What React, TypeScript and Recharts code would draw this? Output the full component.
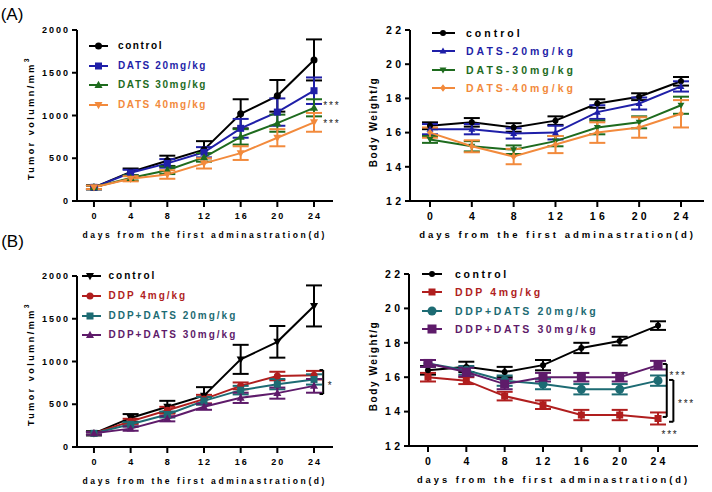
import React from 'react';
import { LineChart, Line, XAxis, YAxis, ErrorBar, ReferenceLine, ReferenceDot } from 'recharts';

const FONT = 'Arial, "Liberation Sans", Helvetica, sans-serif';

// ---------- shared ----------
const days = [0, 4, 8, 12, 16, 20, 24];
const xTicks = [0, 4, 8, 12, 16, 20, 24];
const tumorTicks = [0, 500, 1000, 1500, 2000];
const weightTicks = [12, 14, 16, 18, 20, 22];
const xTitle = 'days from the first adminastration(d)';

// ---------- (A) tumor volume ----------
const aTumorControl = [160, 340, 470, 600, 1020, 1230, 1650];
const aTumorControlErr = [25, 40, 60, 100, 170, 185, 240];
const aTumorD20 = [160, 330, 440, 570, 850, 1040, 1290];
const aTumorD20Err = [20, 35, 50, 60, 110, 160, 155];
const aTumorD30 = [160, 270, 360, 510, 750, 910, 1090];
const aTumorD30Err = [20, 30, 45, 50, 90, 100, 100];
const aTumorD40 = [160, 260, 310, 440, 560, 740, 920];
const aTumorD40Err = [20, 30, 50, 60, 80, 100, 110];

// ---------- (A) body weight ----------
const aWeightControl = [16.4, 16.6, 16.3, 16.7, 17.7, 18.1, 19.0];
const aWeightControlErr = [0.2, 0.25, 0.25, 0.25, 0.25, 0.2, 0.25];
const aWeightD20 = [16.2, 16.2, 15.95, 16.0, 17.2, 17.7, 18.7];
const aWeightD20Err = [0.3, 0.3, 0.3, 0.4, 0.4, 0.35, 0.3];
const aWeightD30 = [15.6, 15.2, 15.0, 15.5, 16.3, 16.6, 17.6];
const aWeightD30Err = [0.2, 0.3, 0.25, 0.3, 0.4, 0.35, 0.5];
const aWeightD40 = [16.0, 15.2, 14.6, 15.3, 16.0, 16.3, 17.1];
const aWeightD40Err = [0.3, 0.35, 0.45, 0.5, 0.6, 0.6, 0.8];

// ---------- (B) tumor volume ----------
const bTumorControl = [160, 340, 470, 600, 1025, 1230, 1650];
const bTumorControlErr = [25, 45, 70, 100, 170, 185, 240];
const bTumorDDP = [160, 300, 430, 560, 715, 830, 840];
const bTumorDDPErr = [15, 30, 40, 50, 40, 50, 50];
const bTumorDD20 = [160, 265, 380, 540, 665, 735, 790];
const bTumorDD20Err = [15, 25, 35, 45, 50, 60, 60];
const bTumorDD30 = [160, 215, 330, 470, 575, 630, 715];
const bTumorDD30Err = [15, 25, 30, 35, 60, 65, 80];

// ---------- (B) body weight ----------
const bWeightControl = [16.4, 16.6, 16.3, 16.7, 17.7, 18.1, 19.0];
const bWeightControlErr = [0.25, 0.3, 0.3, 0.3, 0.3, 0.25, 0.25];
const bWeightDDP = [16.0, 15.8, 14.9, 14.4, 13.8, 13.8, 13.6];
const bWeightDDPErr = [0.25, 0.2, 0.25, 0.25, 0.3, 0.3, 0.35];
const bWeightDD20 = [16.8, 16.4, 15.8, 15.6, 15.3, 15.3, 15.8];
const bWeightDD20Err = [0.2, 0.25, 0.3, 0.3, 0.3, 0.3, 0.3];
const bWeightDD30 = [16.8, 16.3, 15.6, 16.0, 16.0, 16.0, 16.7];
const bWeightDD30Err = [0.2, 0.25, 0.3, 0.25, 0.25, 0.25, 0.25];

// ---------- colours ----------
const BLACK = '#000000';
const BLUE = '#1f1fa8';
const GREEN = '#1e6b1e';
const ORANGE = '#f28a3c';
const RED = '#b01e1e';
const TEAL = '#1d6b73';
const PURPLE = '#5e1b6a';

type Shape = 'circle' | 'square' | 'triangle' | 'triangleDown' | 'diamond';
interface Series { name: string; values: number[]; errs: number[]; color: string; shape: Shape; size: number; }

function buildRows(series: Series[]) {
  return days.map((d, i) => {
    const row: any = { day: d };
    series.forEach((s, k) => {
      row['v' + k] = s.values[i];
      row['e' + k] = s.errs[i];
    });
    return row;
  });
}

function Marker({ shape, cx, cy, size, color }: { shape: Shape; cx: number; cy: number; size: number; color: string }) {
  const r = size / 2;
  if (shape === 'circle') return <circle cx={cx} cy={cy} r={r} fill={color} />;
  if (shape === 'square') return <rect x={cx - r} y={cy - r} width={size} height={size} fill={color} />;
  if (shape === 'triangle')
    return <polygon points={`${cx},${cy - r * 1.2} ${cx + r * 1.15},${cy + r * 0.85} ${cx - r * 1.15},${cy + r * 0.85}`} fill={color} />;
  if (shape === 'triangleDown')
    return <polygon points={`${cx},${cy + r * 1.2} ${cx + r * 1.15},${cy - r * 0.85} ${cx - r * 1.15},${cy - r * 0.85}`} fill={color} />;
  return <polygon points={`${cx},${cy - r * 1.25} ${cx + r},${cy} ${cx},${cy + r * 1.25} ${cx - r},${cy}`} fill={color} />;
}

const xTickRenderer = (fs: number, ls: number) => (p: any) => (
  <text x={p.x + ls / 2} y={p.y} dy={fs * 0.71} textAnchor="middle" fontSize={fs} fontWeight="bold"
    fontFamily={FONT} fill="#000" letterSpacing={ls}>{p.payload.value}</text>
);
const yTickRenderer = (fs: number, ls: number) => (p: any) => (
  <text x={p.x + ls} y={p.y} dy={fs * 0.355} textAnchor="end" fontSize={fs} fontWeight="bold"
    fontFamily={FONT} fill="#000" letterSpacing={ls}>{p.payload.value}</text>
);

function Txt({ x, y, fs, ls, color = '#000', rotate = false, center = true, bold = true, children }: any) {
  const tf = center ? (rotate ? 'translate(-50%,-50%) rotate(-90deg)' : 'translate(-50%,-50%)') : 'translate(0,-50%)';
  return (
    <div style={{
      position: 'absolute', left: x + (center && !rotate ? ls / 2 : 0), top: y, transform: tf,
      fontSize: fs, lineHeight: 1, letterSpacing: ls, fontWeight: bold ? 'bold' : 'normal',
      fontFamily: FONT, color, whiteSpace: 'nowrap',
    }}>{children}</div>
  );
}

interface LegendSpec { lineX1: number; lineX2: number; markerX: number; textX: number; rows: number[]; fs: number; ls: number; }

function LegendOverlay({ series, spec }: { series: Series[]; spec: LegendSpec }) {
  const w = spec.lineX2 - spec.lineX1;
  return (
    <>
      {series.map((s, i) => (
        <React.Fragment key={i}>
          <svg style={{ position: 'absolute', left: spec.lineX1, top: spec.rows[i] - 8 }} width={w} height={16}>
            <line x1={0} y1={8} x2={w} y2={8} stroke={s.color} strokeWidth={2} />
            <Marker shape={s.shape} cx={spec.markerX - spec.lineX1} cy={8} size={s.size} color={s.color} />
          </svg>
          <Txt x={spec.textX} y={spec.rows[i]} fs={spec.fs} ls={spec.ls} color={s.color} center={false}>{s.name}</Txt>
        </React.Fragment>
      ))}
    </>
  );
}

interface PanelProps {
  left: number; top: number; series: Series[];
  yDomain: [number, number]; yTicks: number[]; xDomain: [number, number];
  margin: { top: number; right: number; bottom: number; left: number }; yWidth: number; xHeight: number;
  tickFs: number; tickLs: number; capW: number;
  legend: LegendSpec;
  yTitle: React.ReactNode; yTitlePos: [number, number]; yTitleFs: number; yTitleLs: number;
  xTitlePos: [number, number]; xTitleFs: number; xTitleLs: number;
  annotations?: React.ReactNode[];
}

function Panel(p: PanelProps) {
  const rows = buildRows(p.series);
  return (
    <div style={{ position: 'absolute', left: p.left, top: p.top, width: 356, height: 246 }}>
      <LineChart width={356} height={246} data={rows} margin={p.margin}>
        <XAxis dataKey="day" type="number" domain={p.xDomain} ticks={xTicks} allowDataOverflow interval={0}
          height={p.xHeight} tickSize={6} tickMargin={6}
          axisLine={{ stroke: '#000', strokeWidth: 2 }} tickLine={{ stroke: '#000', strokeWidth: 2 }}
          tick={xTickRenderer(p.tickFs, p.tickLs)} />
        <YAxis type="number" domain={p.yDomain} ticks={p.yTicks} allowDataOverflow interval={0}
          width={p.yWidth} tickSize={5} tickMargin={4}
          axisLine={{ stroke: '#000', strokeWidth: 2 }} tickLine={{ stroke: '#000', strokeWidth: 2 }}
          tick={yTickRenderer(p.tickFs, p.tickLs)} />
        {p.series.map((s, k) => (
          <Line key={k} dataKey={'v' + k} name={s.name} type="linear" stroke={s.color} strokeWidth={2}
            isAnimationActive={false}
            dot={(d: any) => (d.cx == null ? <g key={d.index} /> :
              <Marker key={d.index} shape={s.shape} cx={d.cx} cy={d.cy} size={s.size} color={s.color} />)}
            activeDot={false}>
            <ErrorBar dataKey={'e' + k} direction="y" width={p.capW} strokeWidth={2} stroke={s.color} />
          </Line>
        ))}
        {p.annotations}
      </LineChart>
      <LegendOverlay series={p.series} spec={p.legend} />
      <Txt x={p.yTitlePos[0]} y={p.yTitlePos[1]} fs={p.yTitleFs} ls={p.yTitleLs} rotate>{p.yTitle}</Txt>
      <Txt x={p.xTitlePos[0]} y={p.xTitlePos[1]} fs={p.xTitleFs} ls={p.xTitleLs}>{xTitle}</Txt>
    </div>
  );
}

// annotation helpers (data coordinates through the chart scales)
const seg = (key: string, x1: number, y1: number, x2: number, y2: number) => (
  <ReferenceLine key={key} segment={[{ x: x1, y: y1 }, { x: x2, y: y2 }]} stroke="#000" strokeWidth={2} ifOverflow="visible" />
);
const stars = (key: string, x: number, y: number, text: string) => (
  <ReferenceDot key={key} x={x} y={y} r={0} ifOverflow="visible"
    shape={(d: any) => (
      <text x={d.cx} y={d.cy + 5.5} textAnchor="middle" fontSize={10} fontFamily={FONT} fill="#222" letterSpacing={1.8}>{text}</text>
    )} />
);

const tumorTitle = <>Tumor volumn/mm<span style={{ fontSize: '0.75em', verticalAlign: '0.6em' }}>3</span></>;

export default function App() {
  const aTumorSeries: Series[] = [
    { name: 'control', values: aTumorControl, errs: aTumorControlErr, color: BLACK, shape: 'circle', size: 7 },
    { name: 'DATS 20mg/kg', values: aTumorD20, errs: aTumorD20Err, color: BLUE, shape: 'square', size: 7 },
    { name: 'DATS 30mg/kg', values: aTumorD30, errs: aTumorD30Err, color: GREEN, shape: 'triangle', size: 7 },
    { name: 'DATS 40mg/kg', values: aTumorD40, errs: aTumorD40Err, color: ORANGE, shape: 'triangleDown', size: 7 },
  ];
  const aWeightSeries: Series[] = [
    { name: 'control', values: aWeightControl, errs: aWeightControlErr, color: BLACK, shape: 'circle', size: 6 },
    { name: 'DATS-20mg/kg', values: aWeightD20, errs: aWeightD20Err, color: BLUE, shape: 'triangle', size: 6 },
    { name: 'DATS-30mg/kg', values: aWeightD30, errs: aWeightD30Err, color: GREEN, shape: 'triangleDown', size: 6 },
    { name: 'DATS-40mg/kg', values: aWeightD40, errs: aWeightD40Err, color: ORANGE, shape: 'diamond', size: 6 },
  ];
  const bTumorSeries: Series[] = [
    { name: 'control', values: bTumorControl, errs: bTumorControlErr, color: BLACK, shape: 'triangleDown', size: 7 },
    { name: 'DDP 4mg/kg', values: bTumorDDP, errs: bTumorDDPErr, color: RED, shape: 'circle', size: 7 },
    { name: 'DDP+DATS 20mg/kg', values: bTumorDD20, errs: bTumorDD20Err, color: TEAL, shape: 'square', size: 7 },
    { name: 'DDP+DATS 30mg/kg', values: bTumorDD30, errs: bTumorDD30Err, color: PURPLE, shape: 'triangle', size: 7 },
  ];
  const bWeightSeries: Series[] = [
    { name: 'control', values: bWeightControl, errs: bWeightControlErr, color: BLACK, shape: 'circle', size: 6 },
    { name: 'DDP 4mg/kg', values: bWeightDDP, errs: bWeightDDPErr, color: RED, shape: 'square', size: 7 },
    { name: 'DDP+DATS 20mg/kg', values: bWeightDD20, errs: bWeightDD20Err, color: TEAL, shape: 'circle', size: 9 },
    { name: 'DDP+DATS 30mg/kg', values: bWeightDD30, errs: bWeightDD30Err, color: PURPLE, shape: 'square', size: 9 },
  ];

  return (
    <div style={{ position: 'absolute', left: 0, top: 0, width: 712, height: 492, background: '#fff', overflow: 'hidden' }}>
      <Txt x={12} y={14} fs={17} ls={0} bold={false}>(A)</Txt>
      <Txt x={12.5} y={241} fs={17} ls={0} bold={false}>(B)</Txt>

      <Panel left={0} top={0} series={aTumorSeries}
        yDomain={[0, 2000]} yTicks={tumorTicks} xDomain={[-1.85, 26.07]}
        margin={{ top: 30, right: 23, bottom: 15, left: 17 }} yWidth={60} xHeight={30}
        tickFs={9} tickLs={2} capW={8}
        legend={{ lineX1: 89, lineX2: 108, markerX: 98.5, textX: 118, rows: [45.5, 65.5, 85, 104.5], fs: 10, ls: 1.6 }}
        yTitle={tumorTitle} yTitlePos={[30, 118]} yTitleFs={9} yTitleLs={2.5}
        xTitlePos={[203.5, 235]} xTitleFs={8.5} xTitleLs={2.6}
        annotations={[stars('s1', 25.95, 1135, '***'), stars('s2', 25.95, 925, '***')]} />

      <Panel left={356} top={0} series={aWeightSeries}
        yDomain={[12, 22]} yTicks={weightTicks} xDomain={[-1.91, 26.2]}
        margin={{ top: 30, right: 8, bottom: 15, left: 4 }} yWidth={50} xHeight={30}
        tickFs={10.5} tickLs={3.2} capW={8}
        legend={{ lineX1: 76, lineX2: 99, markerX: 87, textX: 110, rows: [33, 51, 70, 88], fs: 10.5, ls: 3 }}
        yTitle={'Body Weight/g'} yTitlePos={[18, 122]} yTitleFs={10} yTitleLs={1.6}
        xTitlePos={[200, 235]} xTitleFs={9.5} xTitleLs={3}
        />

      <Panel left={0} top={246} series={bTumorSeries}
        yDomain={[0, 2000]} yTicks={tumorTicks} xDomain={[-1.85, 26.07]}
        margin={{ top: 30, right: 23, bottom: 15, left: 17 }} yWidth={60} xHeight={30}
        tickFs={9} tickLs={2} capW={8}
        legend={{ lineX1: 82, lineX2: 101, markerX: 90, textX: 108.5, rows: [29.5, 49.5, 69.5, 89], fs: 10, ls: 2 }}
        yTitle={tumorTitle} yTitlePos={[30, 118]} yTitleFs={9} yTitleLs={2.5}
        xTitlePos={[203.5, 235]} xTitleFs={8.5} xTitleLs={2.6}
        annotations={[
          seg('b1', 25.0, 900, 25.0, 620), seg('b2', 24.6, 900, 25.0, 900), seg('b3', 24.6, 620, 25.0, 620),
          stars('s3', 25.8, 740, '*'),
        ]} />

      <Panel left={356} top={246} series={bWeightSeries}
        yDomain={[12, 22]} yTicks={weightTicks} xDomain={[-1.98, 28.17]}
        margin={{ top: 28, right: 14, bottom: 16, left: 3 }} yWidth={50} xHeight={30}
        tickFs={10.5} tickLs={3.2} capW={8}
        legend={{ lineX1: 66, lineX2: 86, markerX: 76, textX: 99, rows: [28.3, 46, 64.5, 83.3], fs: 10.5, ls: 2.6 }}
        yTitle={'Body Weight/g'} yTitlePos={[18, 120]} yTitleFs={10} yTitleLs={1.6}
        xTitlePos={[196, 235]} xTitleFs={9.3} xTitleLs={3}
        annotations={[
          seg('c1', 24.91, 16.77, 24.91, 13.69), seg('c2', 24.49, 16.77, 24.91, 16.77), seg('c3', 24.49, 13.69, 24.91, 13.69),
          seg('c4', 25.6, 15.84, 25.6, 13.41), seg('c5', 25.15, 15.84, 25.6, 15.84), seg('c6', 25.15, 13.41, 25.6, 13.41),
          stars('s4', 26.09, 16.24, '***'), stars('s5', 26.97, 14.56, '***'), stars('s6', 25.25, 12.81, '***'),
        ]} />
    </div>
  );
}
